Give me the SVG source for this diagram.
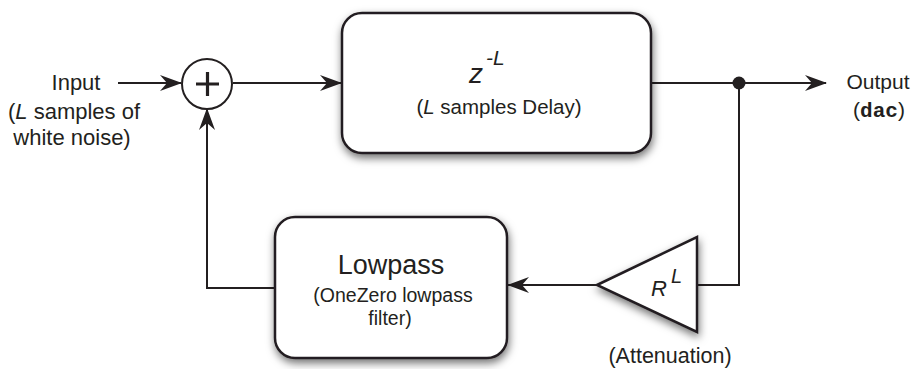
<svg xmlns="http://www.w3.org/2000/svg" width="915" height="369" viewBox="0 0 915 369">
  <style>
    .box { fill: #ffffff; stroke: #231f20; stroke-width: 2.5; filter: url(#shadow); }
    .wire { fill: none; stroke: #231f20; stroke-width: 2; }
    .txt { font-family: "Liberation Sans", Arial, sans-serif; fill: #231f20; }
    .it { font-style: italic; }
  </style>
  <defs>
    <filter id="shadow" x="-20%" y="-20%" width="140%" height="150%">
      <feDropShadow dx="1" dy="4" stdDeviation="4" flood-color="#000" flood-opacity="0.55"/>
    </filter>
    <marker id="arrowBig" viewBox="0 0 22 16" refX="21" refY="8" markerWidth="22" markerHeight="16" markerUnits="userSpaceOnUse" orient="auto">
      <path d="M0,0 L22,8 L0,16 L7,8 z" fill="#231f20"/>
    </marker>
  </defs>

  <!-- signal wiring -->
  <g id="connectors">
    <path class="wire" d="M118,83 H181" marker-end="url(#arrowBig)"/>
    <path class="wire" d="M233,83 H341" marker-end="url(#arrowBig)"/>
    <path class="wire" d="M652,83 H826" marker-end="url(#arrowBig)"/>
    <path class="wire" d="M739,83 V285 H697"/>
    <path class="wire" d="M597,285 H508" marker-end="url(#arrowBig)"/>
    <path class="wire" d="M275,288 H207 V109" marker-end="url(#arrowBig)"/>
    <circle cx="739" cy="83" r="6.5" fill="#231f20"/>
  </g>

  <!-- input label -->
  <g id="input">
    <text class="txt" x="76" y="90" font-size="22" text-anchor="middle">Input</text>
    <text class="txt" x="74" y="119" font-size="22" text-anchor="middle">(<tspan class="it">L</tspan> samples of</text>
    <text class="txt" x="72" y="145" font-size="22" text-anchor="middle">white noise)</text>
  </g>

  <!-- summing junction -->
  <g id="sum">
    <circle cx="207" cy="84" r="25" fill="#ffffff" stroke="#231f20" stroke-width="2"/>
    <path d="M196,84 H219 M207.5,72 V96" stroke="#231f20" stroke-width="3.2" fill="none"/>
  </g>

  <!-- delay line -->
  <g id="delay">
    <rect class="box" x="342" y="13" width="309" height="140" rx="20" ry="20"/>
    <text class="txt it" x="469" y="83" font-size="28">z</text>
    <text class="txt it" x="486" y="65" font-size="21">-L</text>
    <text class="txt" x="499" y="114" font-size="20.5" text-anchor="middle">(<tspan class="it">L</tspan> samples Delay)</text>
  </g>

  <!-- output label -->
  <g id="output">
    <text class="txt" x="878" y="89" font-size="21" text-anchor="middle">Output</text>
    <text class="txt" x="879" y="117" font-size="21" text-anchor="middle">(<tspan font-family="'Liberation Mono', 'Courier New', monospace" font-weight="bold">dac</tspan>)</text>
  </g>

  <!-- attenuation gain -->
  <g id="gain">
    <polygon class="box" points="597,285 697,237 697,332" stroke-linejoin="miter"/>
    <text class="txt it" x="651" y="296" font-size="22">R</text>
    <text class="txt it" x="671" y="283" font-size="20">L</text>
    <text class="txt" x="670" y="363" font-size="21.5" text-anchor="middle">(Attenuation)</text>
  </g>

  <!-- lowpass filter -->
  <g id="lowpass">
    <rect class="box" x="275" y="217" width="232" height="141" rx="20" ry="20"/>
    <text class="txt" x="391" y="274" font-size="27" text-anchor="middle">Lowpass</text>
    <text class="txt" x="393" y="302" font-size="19.5" text-anchor="middle">(OneZero lowpass</text>
    <text class="txt" x="390" y="325" font-size="19.5" text-anchor="middle">filter)</text>
  </g>
</svg>
